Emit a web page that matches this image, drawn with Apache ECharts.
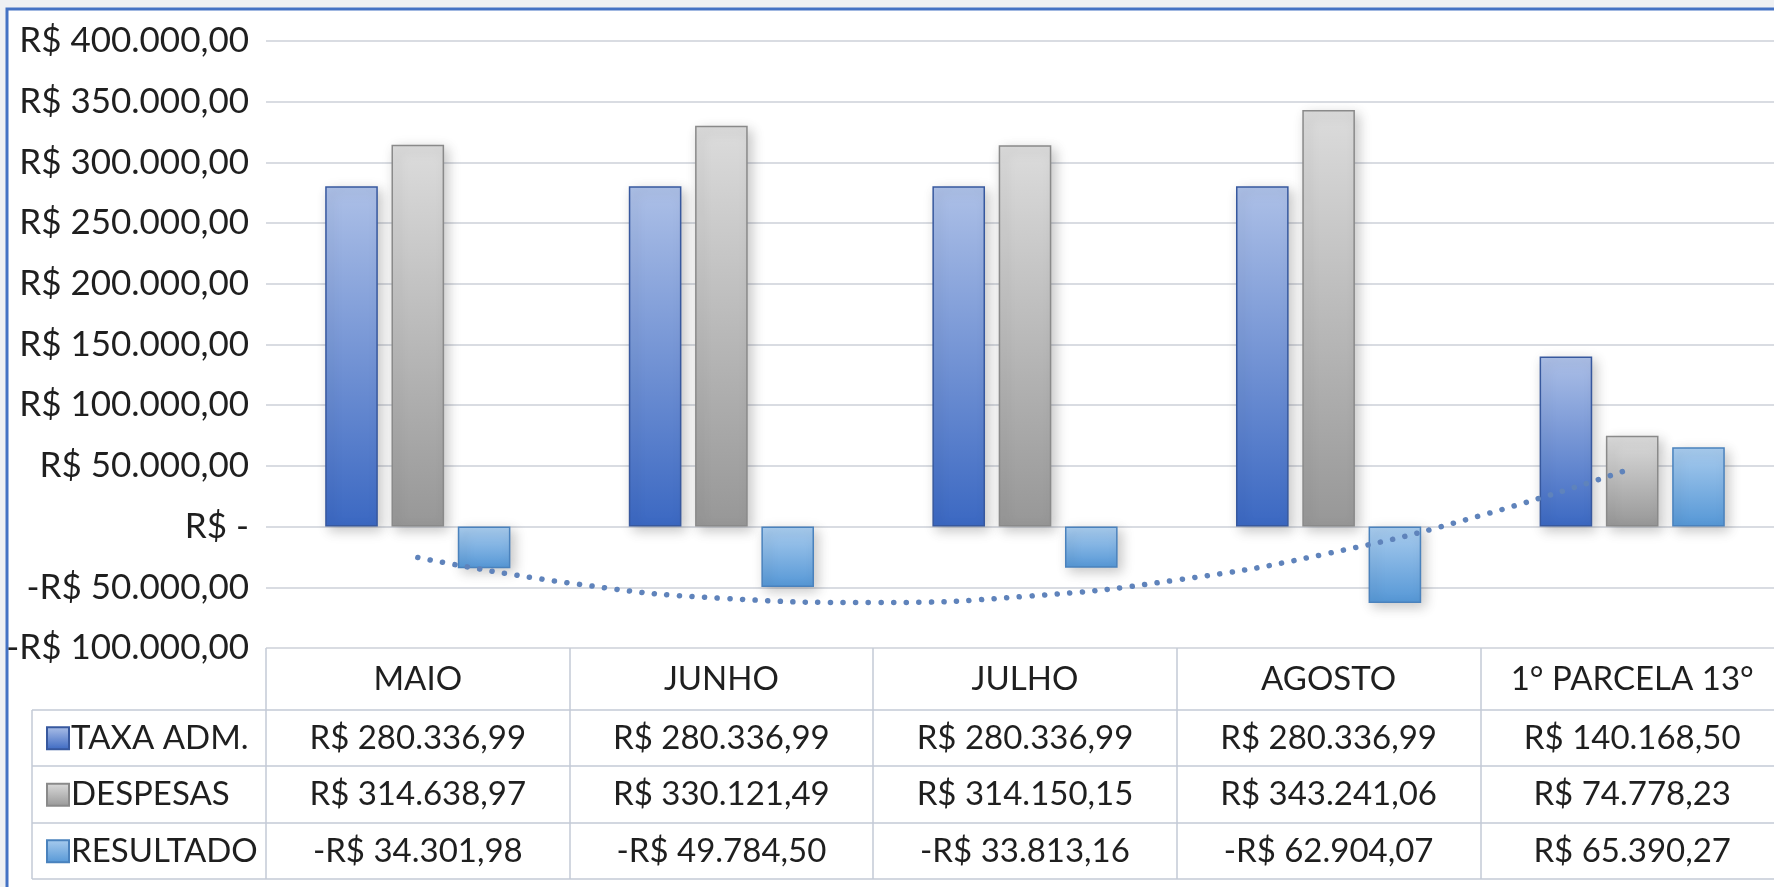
<!DOCTYPE html>
<html lang="pt-BR">
  <head>
    <meta charset="UTF-8" />
    <title>Taxa adm x despesas</title>
    <script src="https://cdn.jsdelivr.net/npm/echarts@6/dist/echarts.min.js"></script>
    <style>
      html, body { margin: 0; padding: 0; background: #eef0f3; }
      #chart { width: 1774px; height: 887px; }
    </style>
  </head>
  <body>
    <div id="chart"></div>
    <script>
      // dados
      const categories = ["MAIO", "JUNHO", "JULHO", "AGOSTO", "1° PARCELA 13°"];
      const taxaAdm = [280336.99, 280336.99, 280336.99, 280336.99, 140168.5];
      const despesas = [314638.97, 330121.49, 314150.15, 343241.06, 74778.23];
      const resultado = [-34301.98, -49784.5, -33813.16, -62904.07, 65390.27];
      const seriesNames = ["TAXA ADM.", "DESPESAS", "RESULTADO"];
      // linha de tendência (pontilhada)
      const trendX = [0.5, 1, 1.5, 2, 2.5, 3, 3.5, 4, 4.5];
      const trendY = [-25500, -46500, -59000, -62500, -57500, -44000, -22000, 9000, 48000];
      const yMin = -100000, yMax = 400000, yStep = 50000;

      const font = "Lato, 'Open Sans', sans-serif";
      const textColor = "#1f1f1f";
      const lineColor = "#c3cad6";

      function brl(v) {
        const neg = v < 0;
        const parts = Math.abs(v).toFixed(2).split(".");
        const int = parts[0].replace(/\B(?=(\d{3})+(?!\d))/g, ".");
        return (neg ? "-" : "") + "R$ " + int + "," + parts[1];
      }

      function grad(top, bottom) {
        return new echarts.graphic.LinearGradient(0, 0, 0, 1, [
          { offset: 0, color: top },
          { offset: 1, color: bottom },
        ]);
      }

      const barShadow = {
        shadowBlur: 12,
        shadowOffsetX: 4,
        shadowOffsetY: 4,
        shadowColor: "rgba(0,0,0,0.22)",
      };

      const values = [taxaAdm, despesas, resultado];

      // tabela de dados abaixo do gráfico
      const rowLines = [710, 766, 823, 879];
      const tableGraphics = [
        {
          type: "rect",
          z: -10,
          shape: { x: 7, y: 9, width: 1800, height: 900 },
          style: { fill: "#ffffff", stroke: "#4472c4", lineWidth: 3 },
        },
        {
          type: "line",
          shape: { x1: 32, y1: rowLines[0], x2: 32, y2: rowLines[3] },
          style: { stroke: lineColor, lineWidth: 1.5 },
        },
      ];
      rowLines.forEach((y) => {
        tableGraphics.push({
          type: "line",
          shape: { x1: 32, y1: y, x2: 1774, y2: y },
          style: { stroke: lineColor, lineWidth: 1.5 },
        });
      });

      const chart = echarts.init(document.getElementById("chart"));
      chart.setOption({
        backgroundColor: "#eef0f3",
        textStyle: { fontFamily: font },
        animation: false,
        grid: { left: 266, right: -10, top: 41, bottom: 239, outerBoundsMode: "none" },
        legend: {
          data: seriesNames,
          orient: "vertical",
          left: 46,
          top: 710,
          padding: 0,
          itemGap: 0,
          itemWidth: 22,
          itemHeight: 22,
          icon: "rect",
          textStyle: { fontSize: 33, color: textColor, lineHeight: 56.5, padding: [0, 0, 0, -3] },
        },
        xAxis: [
          {
            type: "category",
            data: categories,
            axisLine: { show: false, onZero: false },
            axisTick: {
              show: true,
              length: 231,
              lineStyle: { color: lineColor, width: 1.5 },
            },
            axisLabel: {
              interval: 0,
              margin: 0,
              formatter: (v, i) =>
                "{h|" + v + "}\n" + values.map((s) => "{v|" + brl(s[i]) + "}").join("\n"),
              rich: {
                h: { fontSize: 33, lineHeight: 62, color: textColor, fontFamily: font },
                v: { fontSize: 33, lineHeight: 56.5, color: textColor, fontFamily: font },
              },
            },
          },
          { type: "value", min: 0, max: 5, show: false },
        ],
        yAxis: {
          type: "value",
          min: yMin,
          max: yMax,
          interval: yStep,
          axisLine: { show: false },
          axisTick: { show: false },
          splitLine: { lineStyle: { color: "#cdd1d8", width: 1.5 } },
          axisLabel: {
            fontSize: 35,
            color: textColor,
            margin: 17,
            formatter: (v) => (v === 0 ? "R$ -" : brl(v)),
          },
        },
        series: [
          {
            name: seriesNames[0],
            type: "bar",
            data: taxaAdm,
            barGap: "26%",
            barCategoryGap: "39%",
            itemStyle: Object.assign(
              { color: grad("#adc0e7", "#3b68c2"), borderColor: "#37589e", borderWidth: 1.5 },
              barShadow
            ),
          },
          {
            name: seriesNames[1],
            type: "bar",
            data: despesas,
            itemStyle: Object.assign(
              { color: grad("#dcdcdc", "#979797"), borderColor: "#8a8a8a", borderWidth: 1.5 },
              barShadow
            ),
          },
          {
            name: seriesNames[2],
            type: "bar",
            data: resultado,
            itemStyle: Object.assign(
              { color: grad("#a9ccee", "#5597d6"), borderColor: "#4a82bd", borderWidth: 1.5 },
              barShadow
            ),
          },
          {
            name: "tendência",
            type: "line",
            xAxisIndex: 1,
            data: trendX.map((x, i) => [x, trendY[i]]),
            smooth: true,
            symbol: "none",
            z: 5,
            lineStyle: { color: "#5f83bb", width: 5.5, type: [0.1, 12.5], cap: "round" },
          },
        ],
        graphic: tableGraphics,
      });
    </script>
  </body>
</html>
